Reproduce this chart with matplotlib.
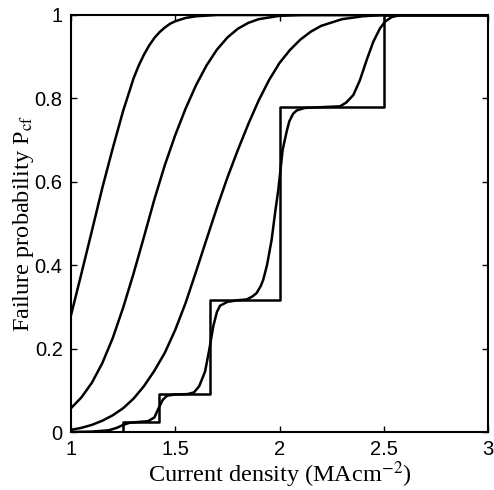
import matplotlib
matplotlib.use("Agg")
import matplotlib.pyplot as plt

# Step function (discrete failure probability)
step_x = [1.0, 1.25, 1.42, 1.667, 2.0, 2.5, 3.0]
step_y = [0.0, 0.024, 0.09, 0.316, 0.779, 1.0, 1.0]

# Smooth curve 1 (leftmost)
c1_x = [1.00, 1.05, 1.10, 1.15, 1.20, 1.25, 1.30, 1.325, 1.35, 1.375, 1.40, 1.425, 1.45, 1.475,
        1.50, 1.55, 1.60, 1.70, 3.00]
c1_y = [0.28, 0.38, 0.482, 0.585, 0.68, 0.77, 0.848, 0.879, 0.905, 0.927, 0.945, 0.959, 0.97, 0.979,
        0.985, 0.993, 0.997, 1.0, 1.0]

# Smooth curve 2
c2_x = [1.00, 1.05, 1.10, 1.15, 1.20, 1.25, 1.30, 1.35, 1.40, 1.45, 1.50, 1.55, 1.60, 1.65, 1.70,
        1.75, 1.80, 1.85, 1.90, 2.00, 2.10, 3.00]
c2_y = [0.057, 0.083, 0.118, 0.165, 0.225, 0.298, 0.38, 0.468, 0.558, 0.64, 0.712, 0.776, 0.832, 0.879, 0.917,
        0.946, 0.967, 0.981, 0.99, 0.998, 1.0, 1.0]

# Smooth curve 3
c3_x = [1.00, 1.05, 1.10, 1.15, 1.20, 1.25, 1.30, 1.35, 1.40, 1.45, 1.50, 1.55, 1.60, 1.65, 1.70, 1.75,
        1.80, 1.85, 1.90, 1.95, 2.00, 2.05, 2.10, 2.15, 2.20, 2.30, 2.40, 2.50, 3.00]
c3_y = [0.005, 0.010, 0.017, 0.027, 0.040, 0.057, 0.080, 0.110, 0.147, 0.19, 0.245, 0.31, 0.385, 0.462, 0.538, 0.610,
        0.676, 0.738, 0.795, 0.844, 0.885, 0.916, 0.941, 0.96, 0.974, 0.99, 0.997, 1.0, 1.0]

# Smooth curve 4 (hugging the steps)
c4_x = [1.00, 1.10, 1.18, 1.22, 1.25, 1.28, 1.32, 1.37, 1.40, 1.42, 1.44, 1.46, 1.50, 1.56, 1.59, 1.615, 1.643,
        1.663, 1.683, 1.70, 1.715, 1.75, 1.80, 1.843, 1.87, 1.89, 1.91, 1.922, 1.94, 1.962, 1.98, 1.994,
        2.005, 2.015, 2.023, 2.035, 2.047, 2.065, 2.082, 2.12, 2.20, 2.29, 2.32, 2.354, 2.386, 2.418,
        2.45, 2.482, 2.506, 2.538, 2.58, 3.00]
c4_y = [0.0, 0.001, 0.004, 0.010, 0.017, 0.022, 0.024, 0.026, 0.035, 0.057, 0.077, 0.087, 0.09, 0.091, 0.095, 0.11, 0.145,
        0.197, 0.255, 0.288, 0.303, 0.312, 0.316, 0.318, 0.325, 0.333, 0.35, 0.365, 0.40, 0.46, 0.53, 0.58,
        0.63, 0.676, 0.695, 0.722, 0.745, 0.763, 0.771, 0.777, 0.779, 0.781, 0.79, 0.808, 0.844, 0.892,
        0.936, 0.968, 0.984, 0.995, 1.0, 1.0]

x_ticks = [1, 1.5, 2, 2.5, 3]
x_ticklabels = ["1", "1.5", "2", "2.5", "3"]
y_ticks = [0, 0.2, 0.4, 0.6, 0.8, 1]
y_ticklabels = ["0", "0.2", "0.4", "0.6", "0.8", "1"]

plt.rcParams["mathtext.fontset"] = "stix"

fig = plt.figure(figsize=(4.94, 4.90), dpi=100)
ax = fig.add_axes([71 / 494, 1 - 432 / 490, 417 / 494, 417 / 490])

lw = 1.8
ax.step(step_x, step_y, where="post", color="black", lw=lw)
for xs, ys in [(c1_x, c1_y), (c2_x, c2_y), (c3_x, c3_y), (c4_x, c4_y)]:
    ax.plot(xs, ys, color="black", lw=lw)

ax.set_xlim(1, 3)
ax.set_ylim(0, 1)
ax.set_xticks(x_ticks)
ax.set_xticklabels(x_ticklabels)
ax.set_yticks(y_ticks)
ax.set_yticklabels(y_ticklabels)
ax.tick_params(direction="in", length=4, width=1, top=True, right=True,
               labelsize=14.5, pad=6)
for lab in ax.get_xticklabels() + ax.get_yticklabels():
    lab.set_fontfamily("Liberation Sans")
for s in ax.spines.values():
    s.set_linewidth(1.5)

ax.set_xlabel("Current density (MAcm$^{-2}$)", fontsize=17.5,
              fontfamily="Liberation Serif", labelpad=0)
ax.set_ylabel("Failure probability P$_{\\rm cf}$", fontsize=17.5,
              fontfamily="Liberation Serif", labelpad=-1)

fig.savefig("out.png", dpi=100)
